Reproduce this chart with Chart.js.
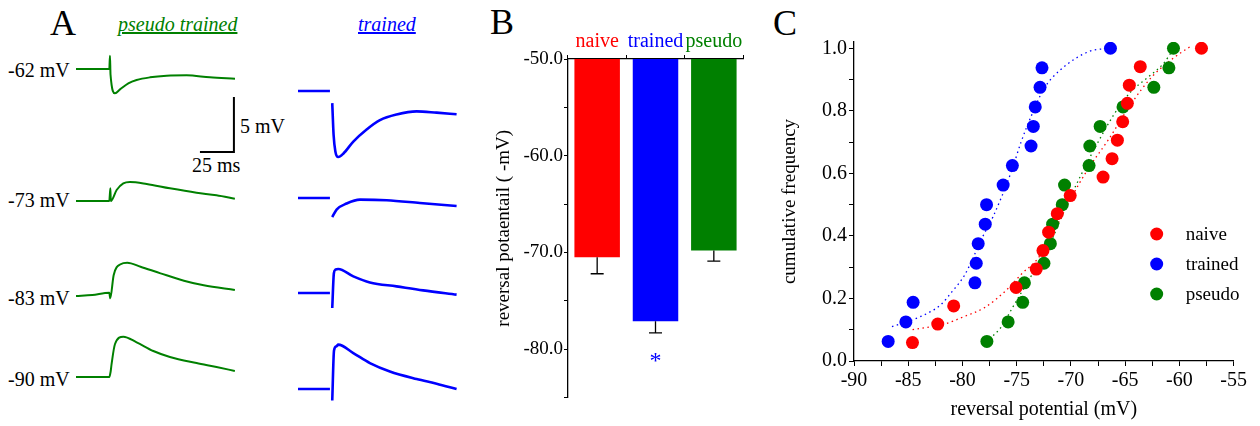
<!DOCTYPE html>
<html>
<head>
<meta charset="utf-8">
<script src="https://cdn.jsdelivr.net/npm/chart.js@4.4.1/dist/chart.umd.min.js"></script>
<style>
  body { margin: 0; background: #fff; }
  #fig { position: relative; width: 1260px; height: 426px; overflow: hidden; font-family: "Liberation Serif", "Times New Roman", serif; }
  #fig canvas, #fig .txt { position: absolute; }
  .txt { line-height: 1; white-space: nowrap; color: #000; font-size: 20px; }
  .panel { font-size: 36px; }
  .head { font-style: italic; text-decoration: underline; }
</style>
</head>
<body>
<div id="fig">
  <!-- panel A -->
  <div class="txt panel" style="left:50px;top:5px">A</div>
  <div class="txt head" style="left:118px;top:14px;color:#008000">pseudo trained</div>
  <div class="txt head" style="left:358px;top:14px;color:#0000ff">trained</div>
  <div class="txt" style="left:8px;top:60px">-62 mV</div>
  <div class="txt" style="left:8px;top:190px">-73 mV</div>
  <div class="txt" style="left:8px;top:288px">-83 mV</div>
  <div class="txt" style="left:8px;top:369px">-90 mV</div>
  <div class="txt" style="left:240px;top:116px">5 mV</div>
  <div class="txt" style="left:192px;top:155px">25 ms</div>
  <canvas id="p62" width="159" height="132" style="left:76px;top:14px"></canvas>
  <canvas id="p73" width="159" height="132" style="left:76px;top:146px"></canvas>
  <canvas id="p83" width="159" height="132" style="left:76px;top:240px"></canvas>
  <canvas id="p90" width="159" height="132" style="left:76px;top:322px"></canvas>
  <canvas id="t62" width="159" height="132" style="left:298px;top:36px"></canvas>
  <canvas id="t73" width="159" height="132" style="left:298px;top:143px"></canvas>
  <canvas id="t83" width="159" height="132" style="left:298px;top:238px"></canvas>
  <canvas id="t90" width="159" height="132" style="left:298px;top:334px"></canvas>
  <canvas id="scaleBar" width="159" height="132" style="left:76px;top:97px"></canvas>

  <!-- panel B -->
  <div class="txt panel" style="left:490px;top:4px">B</div>
  <canvas id="barChart" width="260" height="410" style="left:490px;top:0px"></canvas>

  <!-- panel C -->
  <div class="txt panel" style="left:773px;top:5px">C</div>
  <canvas id="cdfChart" width="480" height="426" style="left:770px;top:0px"></canvas>
</div>

<script>
// sample traces: time (ms) and voltage relative to the pre-stimulus baseline (mV)
const pseudo62T = [0, 24.5, 25, 25.4, 28.7, 32.4, 38.5, 44.6, 54.4, 66.7, 81.4, 98.5, 117];
const pseudo62V = [0, 0, 1.2, -0.5, -2.2, -1.85, -1.3, -1.0, -0.76, -0.61, -0.57, -0.76, -0.88];
const pseudo73T = [0, 24.5, 25.3, 25.6, 29.9, 34.8, 39.7, 52, 69.1, 88.7, 103.4, 116.9];
const pseudo73V = [0, 0, 1.15, 0, 1.0, 1.6, 1.73, 1.55, 1.15, 0.75, 0.52, 0.21];
const pseudo83T = [0, 12, 24.5, 25.2, 27.7, 32.8, 37.7, 47.5, 62.2, 79.4, 94, 116.9];
const pseudo83V = [-0.1, 0, 0.2, -0.3, 1.8, 2.8, 2.94, 2.57, 1.97, 1.3, 0.88, 0.45];
const pseudo90T = [0, 24.5, 25.5, 26.2, 28.7, 34.8, 44.6, 56.9, 69.1, 88.7, 103.4, 116.9];
const pseudo90V = [0, 0, 0.5, 1.2, 3.0, 3.67, 3.15, 2.36, 1.82, 1.27, 0.91, 0.55];

// trained traces have the stimulus artefact blanked (null)
const trained62T = [0, 23.5, 24.3, 25.2, 26.2, 27.5, 29.6, 33.3, 40.7, 50.5, 60.3, 72.5, 87.3, 102, 116.7];
const trained62V = [0, 0, null, -1.1, -4.0, -5.5, -6.0, -5.7, -4.6, -3.5, -2.65, -2.14, -1.85, -1.97, -2.12];
const trained73T = [0, 23.5, 24.3, 25.2, 28.4, 35.8, 45.6, 65.2, 89.7, 116.7];
const trained73V = [0, 0, null, -1.73, -1.05, -0.5, -0.15, -0.2, -0.45, -0.73];
const trained83T = [0, 23.5, 24.3, 25.2, 26.4, 27.5, 29.6, 40.7, 52.9, 72.5, 92.1, 116.7];
const trained83V = [0, 0, null, -1.36, 1.8, 2.12, 2.18, 1.51, 0.96, 0.6, 0.24, -0.15];
const trained90T = [0, 23.5, 24.3, 25.2, 26.5, 28.2, 29.6, 40.7, 52.9, 67.6, 87.3, 102, 116.7];
const trained90V = [0, 0, null, -1.04, 3.5, 3.87, 4.03, 3.27, 2.36, 1.6, 0.91, 0.48, 0];

// calibration bar: 25 ms, 5 mV
const scaleBarT = [91.2, 116.2, 116.2];
const scaleBarV = [0, 0, 5];

// B: mean reversal potential +/- SEM
const groups = ["naive", "trained", "pseudo"];
const groupColors = ["#ff0000", "#0000ff", "#008000"];
const meanRev = [-70.5, -77.1, -69.8];
const semRev = [1.7, 1.2, 1.1];
const sigMarks = ["", "*", ""];
const barTop = -50;

// C: cumulative distributions
const naiveRev = [-84.61, -82.28, -80.81, -75.06, -73.2, -72.58, -72.06, -71.26, -70.07, -67.04, -66.21, -65.72, -65.23, -64.8, -64.62, -63.61, -57.97];
const naiveCum = [0.059, 0.118, 0.176, 0.235, 0.294, 0.353, 0.412, 0.471, 0.529, 0.588, 0.647, 0.706, 0.765, 0.824, 0.882, 0.941, 1.0];
const trainedRev = [-86.85, -85.22, -84.55, -78.85, -78.73, -78.55, -77.9, -77.78, -76.25, -75.4, -73.68, -73.47, -73.29, -72.85, -72.67, -66.36];
const trainedCum = [0.0625, 0.125, 0.1875, 0.25, 0.3125, 0.375, 0.4375, 0.5, 0.5625, 0.625, 0.6875, 0.75, 0.8125, 0.875, 0.9375, 1.0];
const pseudoRev = [-77.75, -75.79, -74.45, -74.29, -72.49, -71.9, -71.69, -70.8, -70.59, -68.33, -68.26, -67.31, -65.2, -62.36, -60.97, -60.55];
const pseudoCum = [0.0625, 0.125, 0.1875, 0.25, 0.3125, 0.375, 0.4375, 0.5, 0.5625, 0.625, 0.6875, 0.75, 0.8125, 0.875, 0.9375, 1.0];

// fitted curves (dotted)
const naiveFitX = [-84.6, -81.5, -80, -78, -76, -74.5, -73, -71.5, -70, -68.5, -66.5, -64.5, -62.5, -60.5, -58.8];
const naiveFitY = [0.10, 0.12, 0.14, 0.17, 0.225, 0.28, 0.33, 0.42, 0.52, 0.61, 0.71, 0.82, 0.91, 0.97, 1.01];
const trainedFitX = [-86.5, -84, -82, -81, -79.8, -78.1, -77.2, -75.5, -74.6, -73.7, -72.5, -71, -68.3, -66.4];
const trainedFitY = [0.11, 0.14, 0.18, 0.22, 0.275, 0.40, 0.46, 0.605, 0.70, 0.78, 0.87, 0.93, 0.99, 1.0];
const pseudoFitX = [-77.5, -76.4, -75.4, -73.7, -72, -70.5, -69, -67.5, -66, -64.5, -62.8, -61.5, -60.5];
const pseudoFitY = [0.07, 0.11, 0.17, 0.27, 0.37, 0.49, 0.60, 0.70, 0.79, 0.86, 0.91, 0.95, 1.0];

Chart.defaults.font.family = '"Liberation Serif", "Times New Roman", serif';
Chart.defaults.color = "#000";
Chart.defaults.animation = false;
Chart.defaults.events = [];
Chart.defaults.plugins.legend.display = false;
Chart.defaults.plugins.tooltip.enabled = false;

const xy = (xs, ys) => xs.map((x, i) => ({ x: x, y: ys[i] }));

// one small chart per trace, all on the same ms / mV scale
function traceChart(id, t, v, color, width, smooth) {
  new Chart(document.getElementById(id), {
    type: "line",
    data: {
      datasets: [{
        data: xy(t, v),
        borderColor: color,
        borderWidth: width,
        pointRadius: 0,
        cubicInterpolationMode: smooth ? "monotone" : "default",
        spanGaps: false,
        clip: false,
      }],
    },
    options: {
      responsive: false,
      layout: { padding: 0 },
      scales: {
        x: { type: "linear", display: false, min: 0, max: 117 },
        y: { display: false, min: -7, max: 5 },
      },
    },
  });
}

traceChart("p62", pseudo62T, pseudo62V, "#008000", 2, true);
traceChart("p73", pseudo73T, pseudo73V, "#008000", 2, true);
traceChart("p83", pseudo83T, pseudo83V, "#008000", 2, true);
traceChart("p90", pseudo90T, pseudo90V, "#008000", 2, true);
traceChart("t62", trained62T, trained62V, "#0000ff", 2.6, true);
traceChart("t73", trained73T, trained73V, "#0000ff", 2.6, true);
traceChart("t83", trained83T, trained83V, "#0000ff", 2.6, true);
traceChart("t90", trained90T, trained90V, "#0000ff", 2.6, true);
traceChart("scaleBar", scaleBarT, scaleBarV, "#000", 2, false);

// error bars (downward only) and significance mark
const errorBars = {
  id: "errorBars",
  afterDatasetsDraw(chart) {
    const { ctx } = chart;
    const y = chart.scales.y;
    const meta = chart.getDatasetMeta(0);
    ctx.save();
    ctx.strokeStyle = "#000";
    ctx.lineWidth = 1.3;
    meta.data.forEach((bar, i) => {
      const y0 = y.getPixelForValue(meanRev[i]);
      const y1 = y.getPixelForValue(meanRev[i] - semRev[i]);
      ctx.beginPath();
      ctx.moveTo(bar.x, y0);
      ctx.lineTo(bar.x, y1);
      ctx.moveTo(bar.x - 6.5, y1);
      ctx.lineTo(bar.x + 6.5, y1);
      ctx.stroke();
      if (sigMarks[i]) {
        ctx.fillStyle = groupColors[i];
        ctx.font = '24px "Liberation Serif"';
        ctx.textAlign = "center";
        ctx.textBaseline = "middle";
        ctx.fillText(sigMarks[i], bar.x, y1 + 29);
      }
    });
    ctx.restore();
  },
};

new Chart(document.getElementById("barChart"), {
  type: "bar",
  data: {
    labels: groups,
    datasets: [{
      data: meanRev.map((v) => [barTop, v]),
      backgroundColor: groupColors,
      borderWidth: 0,
      barPercentage: 0.78,
      categoryPercentage: 1,
    }],
  },
  options: {
    responsive: false,
    layout: { padding: { top: 0, right: 7, bottom: 11, left: 0 } },
    scales: {
      x: {
        position: "top",
        z: 1,
        grid: { drawOnChartArea: false, offset: true, tickLength: 4, color: "#000" },
        border: { color: "#000", width: 1.3 },
        ticks: { color: (c) => groupColors[c.index], font: { size: 20 }, padding: 1, maxRotation: 0, autoSkip: false },
        afterFit: (s) => { s.height = 59; },
      },
      y: {
        min: -85,
        max: -50,
        grid: { drawOnChartArea: false, tickLength: 4, color: "#000" },
        border: { color: "#000", width: 1.3 },
        ticks: {
          stepSize: 5,
          includeBounds: false,
          padding: 1,
          font: { size: 19 },
          callback: (v) => (v % 10 === 0 ? v.toFixed(1) : ""),
        },
        title: { display: true, text: "reversal potaentail ( -mV)", font: { size: 19 }, padding: { top: 3, bottom: 0 } },
        afterFit: (s) => { s.width = 78; },
      },
    },
  },
  plugins: [errorBars],
});

// legend in the lower right of the chart area
const cdfLegend = {
  id: "cdfLegend",
  afterDraw(chart) {
    const { ctx, chartArea } = chart;
    const cx = chartArea.right - 77;
    ctx.save();
    ctx.font = '19px "Liberation Serif"';
    ctx.textBaseline = "middle";
    groups.forEach((name, i) => {
      const cy = chartArea.top + 192 + i * 30;
      ctx.fillStyle = groupColors[i];
      ctx.beginPath();
      ctx.arc(cx, cy, 6.5, 0, Math.PI * 2);
      ctx.fill();
      ctx.fillStyle = "#000";
      ctx.fillText(name, cx + 29, cy + 1);
    });
    ctx.restore();
  },
};

const dots = (xs, ys, color) => ({
  data: xy(xs, ys),
  backgroundColor: color,
  borderWidth: 0,
  pointRadius: 6.5,
  showLine: false,
});
const fit = (xs, ys, color) => ({
  data: xy(xs, ys),
  borderColor: color,
  borderWidth: 1.3,
  borderDash: [1.5, 3.5],
  pointRadius: 0,
  showLine: true,
  cubicInterpolationMode: "monotone",
});

new Chart(document.getElementById("cdfChart"), {
  type: "scatter",
  data: {
    datasets: [
      dots(naiveRev, naiveCum, groupColors[0]),
      dots(pseudoRev, pseudoCum, groupColors[2]),
      dots(trainedRev, trainedCum, groupColors[1]),
      fit(naiveFitX, naiveFitY, groupColors[0]),
      fit(trainedFitX, trainedFitY, groupColors[1]),
      fit(pseudoFitX, pseudoFitY, groupColors[2]),
    ],
  },
  options: {
    responsive: false,
    layout: { padding: { top: 42, right: 15, bottom: 0, left: 0 } },
    scales: {
      x: {
        type: "linear",
        min: -90,
        max: -55,
        grid: { drawOnChartArea: false, tickLength: 5, color: "#000" },
        border: { color: "#000", width: 1.3 },
        ticks: {
          stepSize: 2.5,
          autoSkip: false,
          maxRotation: 0,
          padding: 3,
          font: { size: 20 },
          callback: (v) => (v % 5 === 0 ? String(v) : ""),
        },
        title: { display: true, text: "reversal potential (mV)", font: { size: 20 }, padding: { top: 0, bottom: 4 } },
        afterFit: (s) => { s.height = 65; },
      },
      y: {
        min: 0,
        max: 1.02,
        grid: { drawOnChartArea: false, tickLength: 5, color: "#000" },
        border: { color: "#000", width: 1.3 },
        ticks: {
          stepSize: 0.1,
          includeBounds: false,
          autoSkip: false,
          padding: 2,
          font: { size: 20 },
          callback: (v) => (Math.round(v * 10) % 2 === 0 ? v.toFixed(1) : ""),
        },
        title: { display: true, text: "cumulative frequency", font: { size: 19 }, padding: { top: 9, bottom: 0 } },
        afterFit: (s) => { s.width = 84; },
      },
    },
  },
  plugins: [cdfLegend],
});
</script>
</body>
</html>
